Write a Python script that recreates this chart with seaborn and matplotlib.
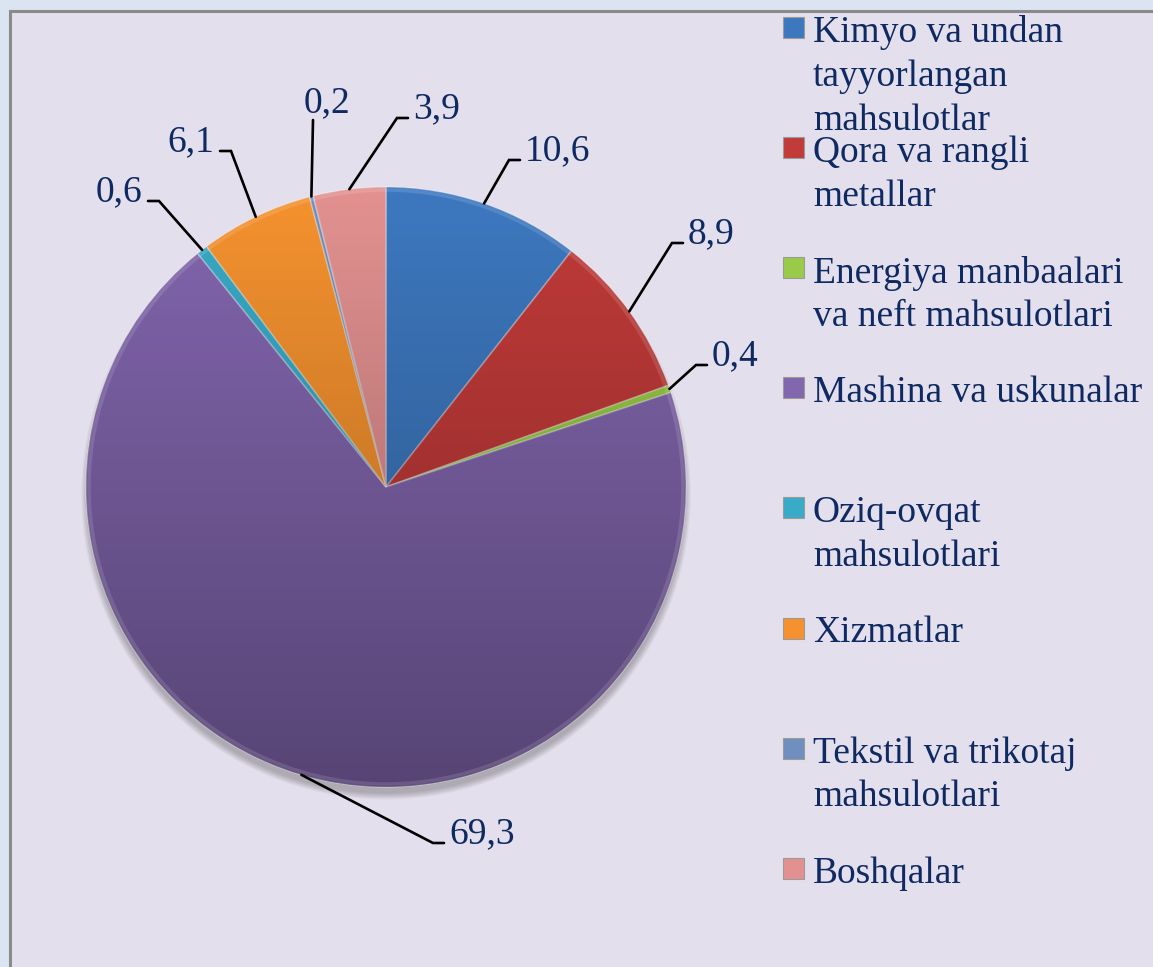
import numpy as np
import matplotlib
matplotlib.use("Agg")
import matplotlib.pyplot as plt
from matplotlib.patches import Rectangle, Circle
import seaborn as sns

# data
categories = [
    "Kimyo va undan\ntayyorlangan\nmahsulotlar",
    "Qora va rangli\nmetallar",
    "Energiya manbaalari\nva neft mahsulotlari",
    "Mashina va uskunalar",
    "Oziq-ovqat\nmahsulotlari",
    "Xizmatlar",
    "Tekstil va trikotaj\nmahsulotlari",
    "Boshqalar",
]
shares = [10.6, 8.9, 0.4, 69.3, 0.6, 6.1, 0.2, 3.9]
slice_colors = ["#3d78bf", "#c13b39", "#9acb48", "#8266ae",
                "#39abc8", "#f5922f", "#6f8fc0", "#e29190"]

# where each value label sits (pixel end of the leader line, text side)
label_layout = [(520, 160, "left"), (683, 243, "left"), (707, 365, "left"),
                (444, 843, "left"), (148, 201, "right"), (220, 151, "right"),
                (313, 120, "up"), (408, 118, "left")]

W, H, DPI = 1153, 967, 100
CX, CY, R = 386, 487, 300   # pie centre and radius in pixels
TEXT = "#0f2a62"

sns.set_theme(style="white")
plt.rcParams["font.family"] = ["Liberation Serif", "DejaVu Serif"]

fig = plt.figure(figsize=(W / DPI, H / DPI), dpi=DPI)
fig.patch.set_facecolor("#dbe5f1")
fig.add_artist(Rectangle((10.5 / W, -0.1), 1.2, (H - 10.5) / H + 0.1,
                         transform=fig.transFigure, facecolor="#e4dfec",
                         edgecolor="#8a8a8a", lw=2.2, zorder=0))


def px(x, y):
    return (x - CX) / R, (CY - y) / R


ax = fig.add_axes([0, 0, 2 * CX / W, 1])
ax.patch.set_alpha(0)

# soft shadow under the pie
for k in range(8):
    ax.add_patch(Circle((0, -0.026), 0.995 + 0.003 * k, color="black",
                        alpha=0.03, lw=0, zorder=0))

wedges, _ = ax.pie(shares, colors=slice_colors, startangle=90,
                   counterclock=False, radius=1,
                   wedgeprops=dict(edgecolor=(1, 1, 1, 0.3), linewidth=1.2))
for w in wedges:
    w.set_zorder(2)

# top-to-bottom shading of the pie
grad = np.zeros((256, 1, 4))
grad[:, 0, 3] = np.linspace(0.0, 0.33, 256)
img = ax.imshow(grad, extent=(-1, 1, -1, 1), origin="upper",
                aspect="auto", zorder=3, interpolation="bilinear")
img.set_clip_path(Circle((0, 0), 1, transform=ax.transData))
ax.add_patch(Circle((0, 0), 0.99, fill=False, edgecolor=(1, 1, 1, 0.12),
                    lw=2.5, zorder=4))

# value labels with leader lines
for w, v, (ex, ey, side) in zip(wedges, shares, label_layout):
    mid = np.deg2rad((w.theta1 + w.theta2) / 2)
    edge = (np.cos(mid), np.sin(mid))
    end = px(ex, ey)
    txt = f"{v:.1f}".replace(".", ",")
    if side == "left":
        elbow = px(ex - 11, ey)
        pos, ha = px(ex + 5, ey), "left"
    elif side == "right":
        elbow = px(ex + 11, ey)
        pos, ha = px(ex - 6, ey), "right"
    else:
        elbow = end
        pos, ha = px(ex + 14, ey - 8), "center"
    ax.plot([edge[0], elbow[0], end[0]], [edge[1], elbow[1], end[1]],
            color="black", lw=1.9, zorder=5, solid_joinstyle="miter")
    ax.text(pos[0], pos[1], txt, ha=ha, va="baseline", fontsize=27,
            color=TEXT, zorder=6)

ax.set_xlim(-CX / R, CX / R)
ax.set_ylim(-(H - CY) / R, CY / R)
ax.set_aspect("auto")
ax.axis("off")

# legend drawn by hand so entries stay evenly spaced
for i, (lab, col) in enumerate(zip(categories, slice_colors)):
    base = 42 + 120.1 * i
    fig.add_artist(Rectangle((783 / W, 1 - (base - 4) / H), 21 / W, 21 / H,
                             transform=fig.transFigure, facecolor=col,
                             edgecolor="#9a9a9a", lw=0.8))
    fig.text(813 / W, 1 - (base - 26.5) / H, lab, ha="left", va="top",
             fontsize=27, color=TEXT, linespacing=1.34)

fig.savefig("out.png", dpi=DPI, facecolor=fig.get_facecolor())
